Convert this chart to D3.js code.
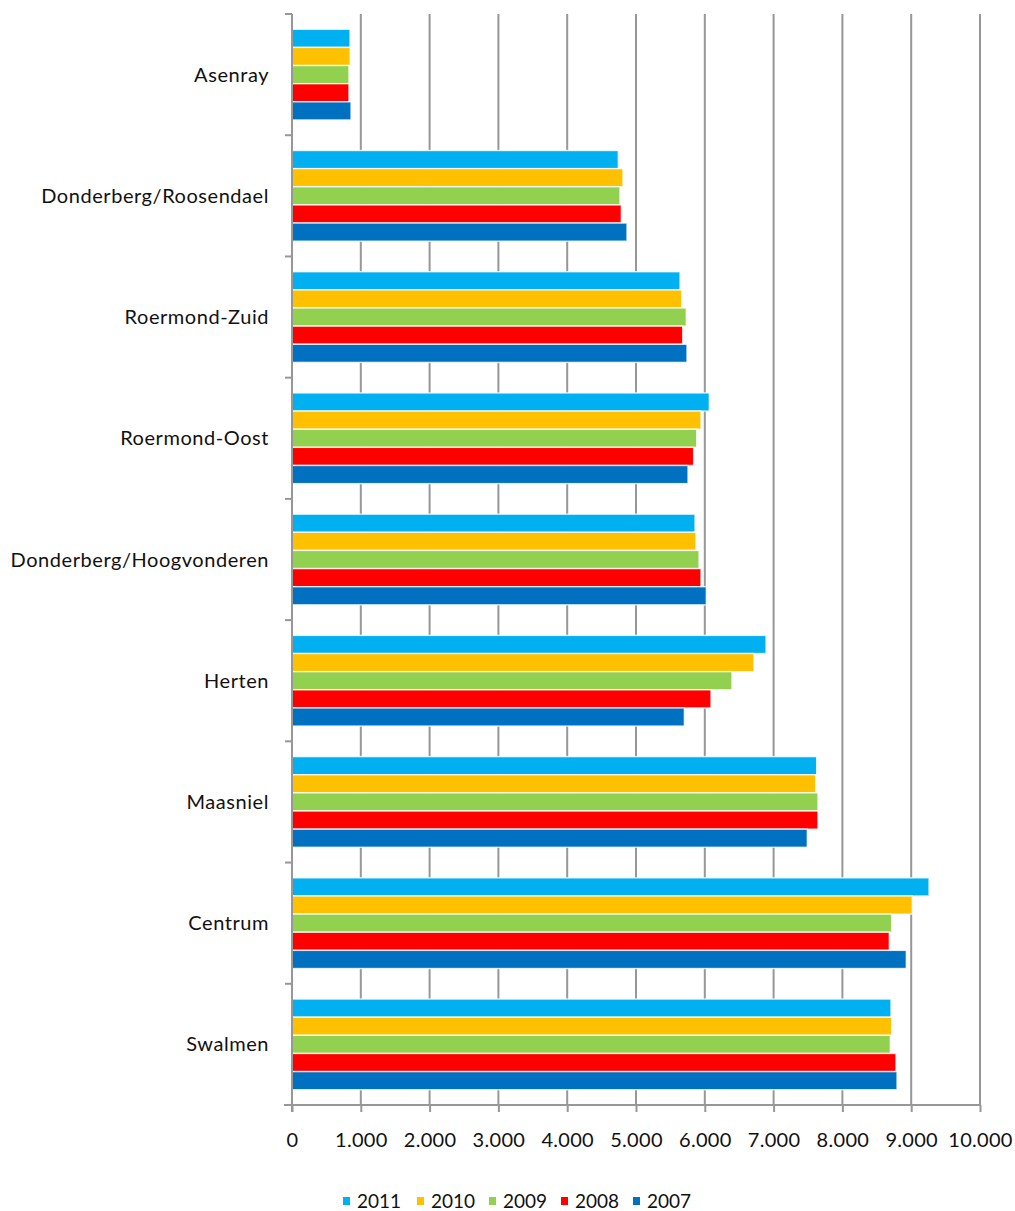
<!DOCTYPE html>
<html>
<head>
<meta charset="utf-8">
<script src="https://cdn.jsdelivr.net/npm/d3@7"></script>
<style>
  html, body { margin: 0; padding: 0; background: #fff; }
  svg { display: block; }
  text { font-family: Lato, "DejaVu Sans", sans-serif; fill: #111; }
</style>
</head>
<body>
<svg id="chart" width="1015" height="1211"></svg>
<script>
// Wijken (top to bottom)
const categories = [
  "Asenray", "Donderberg/Roosendael", "Roermond-Zuid", "Roermond-Oost",
  "Donderberg/Hoogvonderen", "Herten", "Maasniel", "Centrum", "Swalmen"
];
// Years, in the order the bars are stacked inside each group
const years = ["2011", "2010", "2009", "2008", "2007"];
const colors = ["#00B0F0", "#FFC000", "#92D050", "#FF0000", "#0070C0"];

// Inhabitants per district, one array per year
const v2011 = [843, 4743, 5640, 6066, 5858, 6890, 7626, 9259, 8706];
const v2010 = [845, 4811, 5664, 5945, 5872, 6715, 7612, 9016, 8716];
const v2009 = [828, 4767, 5731, 5882, 5916, 6395, 7645, 8716, 8697];
const v2008 = [828, 4787, 5679, 5838, 5945, 6090, 7645, 8682, 8779];
const v2007 = [858, 4869, 5741, 5756, 6022, 5703, 7490, 8929, 8794];
const series = [v2011, v2010, v2009, v2008, v2007];

const xTicks = [0, 1000, 2000, 3000, 4000, 5000, 6000, 7000, 8000, 9000, 10000];

const nl = d3.formatLocale({ decimal: ",", thousands: ".", grouping: [3], currency: ["€", ""] });
const fmt = nl.format(",d");

const svg = d3.select("#chart");
const plotLeft = 292, plotRight = 980, plotTop = 14, plotBottom = 1105;
const gridColor = "#979797";

const x = d3.scaleLinear().domain([0, 10000]).range([plotLeft, plotRight]);
const y0 = d3.scaleBand().domain(categories).range([plotTop, plotBottom]);
const bw = y0.bandwidth();
const y1 = d3.scaleBand().domain(years).range([bw * 0.126, bw * 0.874]);

// Vertical gridlines
svg.append("g")
  .selectAll("line")
  .data(xTicks.slice(1))
  .join("line")
  .attr("x1", d => x(d)).attr("x2", d => x(d))
  .attr("y1", plotTop).attr("y2", plotBottom)
  .attr("stroke", gridColor).attr("stroke-width", 2);

// Bars
const groups = svg.append("g")
  .selectAll("g")
  .data(categories)
  .join("g")
  .attr("transform", d => `translate(0,${y0(d)})`);

groups.selectAll("rect")
  .data((c, i) => years.map((yr, k) => ({ yr, k, value: series[k][i] })))
  .join("rect")
  .attr("x", x(0))
  .attr("y", d => y1(d.yr))
  .attr("width", d => x(d.value) - x(0))
  .attr("height", y1.bandwidth())
  .attr("fill", d => colors[d.k])
  .attr("stroke", "#ffffff")
  .attr("stroke-opacity", 0.8)
  .attr("stroke-width", 1.4);

// Bottom axis
const xAxis = d3.axisBottom(x).tickValues(xTicks).tickFormat(d => fmt(d)).tickSize(7).tickSizeOuter(0);
const gx = svg.append("g").attr("transform", `translate(0,${plotBottom})`).call(xAxis);
gx.select(".domain").attr("stroke", gridColor).attr("stroke-width", 2)
  .attr("d", `M${plotLeft - 8},0H${plotRight}`);
gx.selectAll(".tick line").attr("stroke", gridColor).attr("stroke-width", 2);
gx.selectAll(".tick text")
  .attr("dy", 0).attr("y", 42)
  .attr("fill", "#111")
  .style("font-size", "20px")
  .style("letter-spacing", "0.3px")
  .style("font-family", 'Lato, "DejaVu Sans", sans-serif');

// Left axis: boundaries between categories
const bounds = categories.map(c => y0(c)).concat([plotBottom]);
svg.append("line")
  .attr("x1", plotLeft).attr("x2", plotLeft)
  .attr("y1", plotTop).attr("y2", plotBottom + 7)
  .attr("stroke", gridColor).attr("stroke-width", 2);
svg.append("g")
  .selectAll("line")
  .data(bounds)
  .join("line")
  .attr("x1", plotLeft - 7).attr("x2", plotLeft)
  .attr("y1", d => d).attr("y2", d => d)
  .attr("stroke", gridColor).attr("stroke-width", 2);

// Category labels
svg.append("g")
  .selectAll("text")
  .data(categories)
  .join("text")
  .attr("x", 269)
  .attr("y", d => y0(d) + bw / 2)
  .attr("dy", "0.35em")
  .attr("text-anchor", "end")
  .style("font-size", "20px")
  .style("letter-spacing", "0.55px")
  .text(d => d);

// Legend
const legendX = [343, 417, 489, 561, 633];
const legend = svg.append("g")
  .selectAll("g")
  .data(years)
  .join("g")
  .attr("transform", (d, i) => `translate(${legendX[i]},1201)`);
legend.append("rect")
  .attr("x", 0).attr("y", -4)
  .attr("width", 7).attr("height", 8)
  .attr("fill", (d, i) => colors[i]);
legend.append("text")
  .attr("x", 14).attr("y", 0)
  .attr("dy", "0.35em")
  .style("font-size", "19px")
  .text(d => d);
</script>
</body>
</html>
